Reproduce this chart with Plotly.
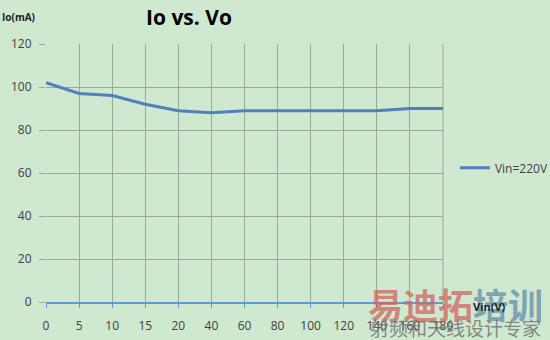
import plotly.graph_objects as go

vin_labels = ["0", "5", "10", "15", "20", "40", "60", "80", "100", "120", "140", "160", "180"]
io_ma = [102, 97, 96, 92, 89, 88, 89, 89, 89, 89, 89, 90, 90]
y_ticks = [0, 20, 40, 60, 80, 100, 120]

bg = "#cfe8d0"
grid = "#99a898"

fig = go.Figure()
fig.add_trace(go.Scatter(
    x=vin_labels, y=io_ma, mode="lines", name="Vin=220V",
    line=dict(color="#4f81bd", width=3),
))

fig.update_layout(
    width=550, height=340,
    margin=dict(l=46, r=107, t=44, b=38, autoexpand=False),
    paper_bgcolor=bg, plot_bgcolor=bg,
    font=dict(family="Open Sans, DejaVu Sans, sans-serif", size=12, color="#404040"),
    showlegend=True,
    legend=dict(x=1.03, y=0.52, xanchor="left", yanchor="middle",
                bgcolor="rgba(0,0,0,0)", font=dict(size=12, color="#404040"),
                itemwidth=30, tracegroupgap=0),
    xaxis=dict(type="category", range=[0, 12], showgrid=True, gridcolor=grid, gridwidth=1,
               showline=True, linecolor="#5b9bd5", linewidth=1.5,
               ticks="outside", ticklen=4, tickcolor="#5b9bd5", ticklabelstandoff=8,
               tickfont=dict(size=12, color="#404040"), zeroline=False, fixedrange=True),
    yaxis=dict(range=[0, 120], tickvals=y_ticks, showgrid=True, gridcolor=grid, gridwidth=1,
               ticks="outside", ticklen=6, tickcolor=grid, zeroline=False, showline=False,
               ticklabelstandoff=5, tickfont=dict(size=12, color="#404040")),
)

# vertical grid line at right edge
fig.add_shape(type="line", xref="paper", yref="paper", x0=1, x1=1, y0=0, y1=1,
              line=dict(color=grid, width=1), layer="below")

fig.add_annotation(text="<b>Io vs. Vo</b>", xref="paper", yref="paper", x=(189-46)/397, y=1.0,
                   xanchor="center", yanchor="middle", yshift=27, showarrow=False,
                   font=dict(size=21, color="#000000", family="Open Sans, DejaVu Sans, sans-serif"))
fig.add_annotation(text="<b>Io(mA)</b>", xref="paper", yref="paper", x=-46/397, y=1.0,
                   xanchor="left", yanchor="middle", yshift=27, showarrow=False,
                   font=dict(size=10, color="#222222"))

# watermark
fig.add_annotation(text="<b><span style='color:rgba(210,100,95,0.75)'>易迪拓</span><span style='color:rgba(100,140,170,0.75)'>培训</span></b>",
                   xref="paper", yref="paper", x=(455-46)/397, y=0, yshift=-1,
                   xanchor="center", yanchor="middle",
                   showarrow=False, font=dict(size=35, family="Noto Sans CJK SC"))
fig.add_annotation(text="射频和天线设计专家", xref="paper", yref="paper",
                   x=(455-46)/397, y=0, yshift=-25, xanchor="center", yanchor="middle",
                   showarrow=False,
                   font=dict(size=19, color="rgba(110,110,110,0.8)", family="Noto Sans CJK SC"))
fig.add_annotation(text="<b>Vin(V)</b>", xref="paper", yref="paper",
                   x=(489-46)/397, y=0, yshift=-4, xanchor="center", yanchor="middle",
                   showarrow=False, font=dict(size=11, color="#222222"))

fig.write_html("out.html")
